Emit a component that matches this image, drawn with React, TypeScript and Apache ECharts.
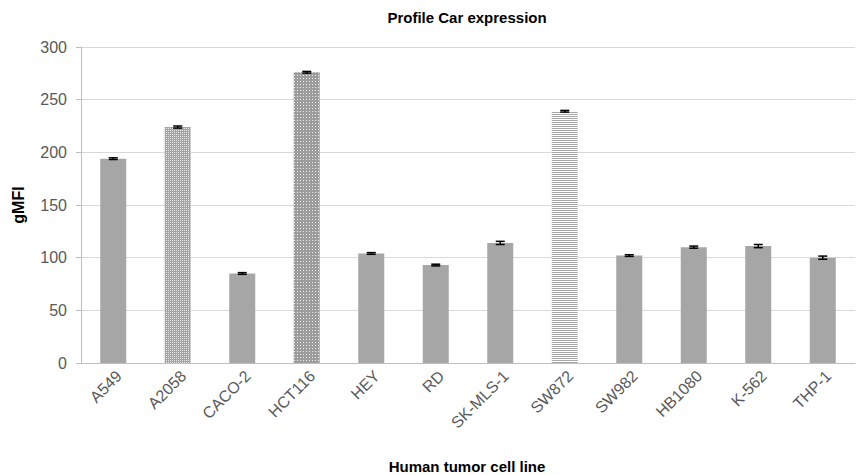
import React, { useEffect, useRef } from "react";
import * as echarts from "echarts";

const categories = ["A549", "A2058", "CACO-2", "HCT116", "HEY", "RD", "SK-MLS-1", "SW872", "SW982", "HB1080", "K-562", "THP-1"];
const gmfi = [194, 224, 85, 276, 104, 93, 114, 239, 102, 110, 111, 100];
const errors = [0.8, 1, 0.8, 0.8, 0.8, 0.8, 1.5, 0.8, 0.8, 1, 1.5, 1.5];
const yTicks = [0, 50, 100, 150, 200, 250, 300];

const FONT = "Liberation Sans, Arial, sans-serif";

// fill for each bar: solid grey, or a textured pattern for a few lines
function barStyle(name: string) {
  if (name === "A2058") {
    return {
      color: "#a4a4a4",
      decal: { symbol: "rect", symbolSize: 1, dashArrayX: [1, 1], dashArrayY: [1, 1], color: "#e6e6e6" },
    };
  }
  if (name === "HCT116") {
    return {
      color: "#9c9c9c",
      decal: { symbol: "rect", symbolSize: 1, dashArrayX: [1, 2], dashArrayY: [1, 2], color: "#eeeeee" },
    };
  }
  if (name === "SW872") {
    return {
      color: "#ffffff",
      decal: { symbol: "rect", symbolSize: 1, dashArrayX: [1, 0], dashArrayY: [1, 1], color: "#a8a8a8" },
    };
  }
  return { color: "#a6a6a6" };
}

export default function App() {
  const ref = useRef<HTMLDivElement>(null);

  useEffect(() => {
    document.body.style.margin = "0";
    if (!ref.current) return;
    const chart = echarts.init(ref.current, null, { renderer: "svg" });
    chart.setOption({
      animation: false,
      graphic: [
        {
          type: "text",
          x: 467,
          y: 17,
          style: {
            text: "Profile Car expression",
            fontFamily: FONT,
            fontSize: 15,
            fontWeight: "bold",
            fill: "#000",
            textAlign: "center",
            textVerticalAlign: "middle",
          },
        },
        {
          type: "text",
          x: 467,
          y: 466,
          style: {
            text: "Human tumor cell line",
            fontFamily: FONT,
            fontSize: 15,
            fontWeight: "bold",
            fill: "#000",
            textAlign: "center",
            textVerticalAlign: "middle",
          },
        },
        {
          type: "text",
          x: 18,
          y: 205,
          rotation: Math.PI / 2,
          style: {
            text: "gMFI",
            fontFamily: FONT,
            fontSize: 16,
            fontWeight: "bold",
            fill: "#000",
            textAlign: "center",
            textVerticalAlign: "middle",
          },
        },
      ],
      grid: { left: 81, right: 10, top: 47, bottom: 112 },
      xAxis: {
        type: "category",
        data: categories,
        axisLine: { lineStyle: { color: "#bfbfbf" } },
        axisTick: { show: false },
        axisLabel: {
          rotate: 45,
          fontFamily: FONT,
          fontSize: 16,
          color: "#595959",
          margin: 16,
          interval: 0,
          padding: [0, -8, 0, 0],
        },
      },
      yAxis: {
        type: "value",
        min: yTicks[0],
        max: yTicks[yTicks.length - 1],
        interval: 50,
        axisLine: { show: true, lineStyle: { color: "#bfbfbf" } },
        axisTick: { show: true, length: 5, lineStyle: { color: "#bfbfbf" } },
        axisLabel: { fontFamily: FONT, fontSize: 16, color: "#595959", margin: 14 },
        splitLine: { lineStyle: { color: "#d9d9d9" } },
      },
      series: [
        {
          type: "bar",
          barWidth: 26,
          data: gmfi.map((v, i) => ({ value: v, itemStyle: barStyle(categories[i]) })),
        },
        {
          type: "custom",
          z: 5,
          data: gmfi.map((v, i) => [i, v - errors[i], v + errors[i]]),
          renderItem: (params: any, api: any) => {
            const x = api.value(0);
            const lo = api.coord([x, api.value(1)]);
            const hi = api.coord([x, api.value(2)]);
            const half = 4.5;
            const style = { stroke: "#000", lineWidth: 1.5 };
            return {
              type: "group",
              children: [
                { type: "line", shape: { x1: lo[0], y1: lo[1], x2: hi[0], y2: hi[1] }, style },
                { type: "line", shape: { x1: hi[0] - half, y1: hi[1], x2: hi[0] + half, y2: hi[1] }, style },
                { type: "line", shape: { x1: lo[0] - half, y1: lo[1], x2: lo[0] + half, y2: lo[1] }, style },
              ],
            };
          },
        },
      ],
    });
    return () => chart.dispose();
  }, []);

  return <div ref={ref} style={{ width: 865, height: 475 }} />;
}
